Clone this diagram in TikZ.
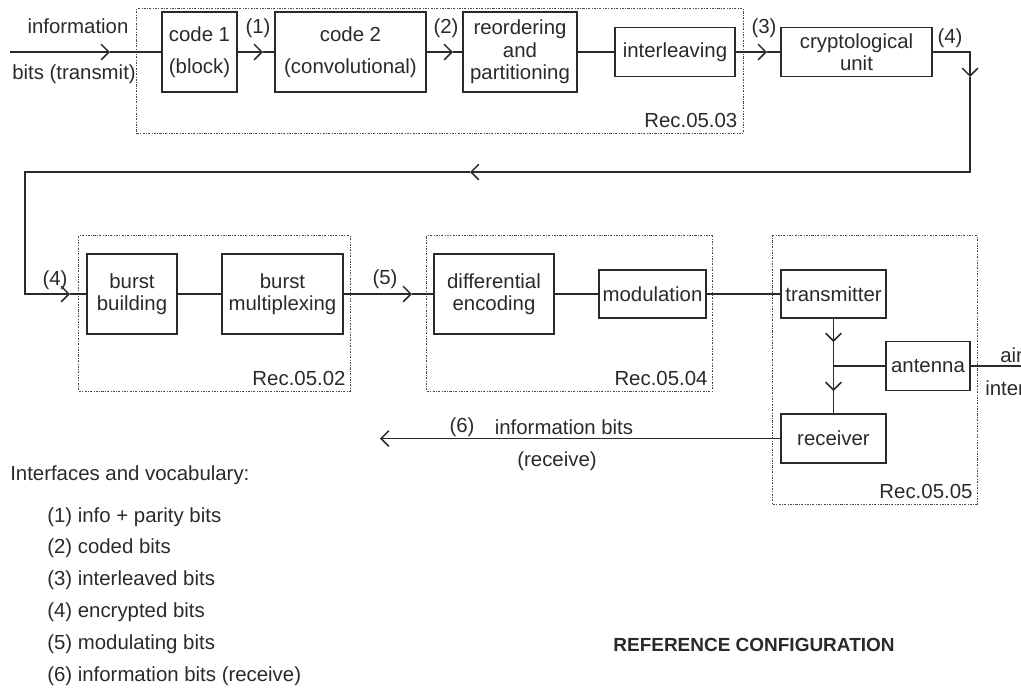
\documentclass[tikz,border=0pt]{standalone}
\usepackage{fontspec}
\setmainfont{Liberation Sans}
\usetikzlibrary{arrows.meta,positioning}
\definecolor{ink}{HTML}{2A2A2A}
\definecolor{rim}{HTML}{4A4A4A}

\begin{document}
\begin{tikzpicture}[x=0.025cm,y=-0.025cm,font=\fontsize{14.5}{16}\selectfont,
  box/.style={draw=ink,line width=1.35pt,align=center,inner sep=1pt,text=ink,fill=white},
  wire/.style={line width=1.35pt,draw=ink},
  flow/.style={wire,-{Straight Barb[length=5.5pt,width=11pt,line width=1.1pt]}},
  rec/.style={draw=rim,line width=.7pt,dash pattern=on 1.5pt off 1pt on .5pt off 1pt,inner sep=0pt},
  lbl/.style={text=ink,inner sep=0pt}]
\clip (0,0) rectangle (1021,687);

\node[rec,minimum width=15.15cm,minimum height=3.1cm] (rec03) at (440,71) {};
\node[rec,minimum width=6.775cm,minimum height=3.875cm] (rec02) at (214.5,313.5) {};
\node[rec,minimum width=7.125cm,minimum height=3.875cm] (rec04) at (569.5,313.5) {};
\node[rec,minimum width=5.1cm,minimum height=6.7cm] (rec05) at (875,370) {};
\node[lbl,anchor=base east] at ([xshift=-1.5mm,yshift=1.6mm]rec03.south east) {Rec.05.03};
\node[lbl,anchor=base east] at ([xshift=-1.2mm,yshift=1.6mm]rec02.south east) {Rec.05.02};
\node[lbl,anchor=base east] at ([xshift=-1.2mm,yshift=1.6mm]rec04.south east) {Rec.05.04};
\node[lbl,anchor=base east] at ([xshift=-1.2mm,yshift=1.6mm]rec05.south east) {Rec.05.05};

\node[box,minimum width=1.875cm,minimum height=2cm] (code1) at (199.5,52) {code 1\\[7pt](block)};
\node[box,minimum width=3.775cm,minimum height=2cm] (code2) at (350.5,52) {code 2\\[7pt](convolutional)};
\node[box,minimum width=2.85cm,minimum height=2cm] (reorder) at (520,52) {reordering\\and\\partitioning};
\node[box,minimum width=3cm,minimum height=1.225cm] (interleave) at (675,52) {interleaving};
\node[box,minimum width=3.775cm,minimum height=1.225cm] (crypto) at (856.5,52) {cryptological\\unit};

\node[box,minimum width=2.25cm,minimum height=2cm] (burstb) at (132,294) {burst\\building};
\node[box,minimum width=3.025cm,minimum height=2cm] (burstm) at (282.5,294) {burst\\multiplexing};
\node[box,minimum width=3cm,minimum height=2cm] (diffenc) at (494,294) {differential\\encoding};
\node[box,minimum width=2.675cm,minimum height=1.2cm] (modulation) at (652.5,294) {modulation};
\node[box,minimum width=2.625cm,minimum height=1.2cm] (transmitter) at (833.5,294) {transmitter};
\node[box,minimum width=2.1cm,minimum height=1.225cm] (antenna) at (928,366) {antenna};
\node[box,minimum width=2.625cm,minimum height=1.225cm] (receiver) at (833.5,438.5) {receiver};

\node[lbl] (infotop) at (78,26) {information};
\node[lbl] (infobot) at (74,74) {bits (transmit)};
\node[lbl] (if1) at (258,28) {(1)};
\node[lbl] (if2) at (446,28) {(2)};
\node[lbl] (if3) at (764,28) {(3)};
\node[lbl] (if4a) at (950,38) {(4)};
\node[lbl] (if4b) at (55,280) {(4)};
\node[lbl] (if5) at (385,279) {(5)};
\node[lbl] (if6) at (462,427) {(6)};
\node[lbl] (rxtop) at (564,427) {information bits};
\node[lbl] (rxbot) at (557,461) {(receive)};
\node[lbl,anchor=west] (airtop) at (1000,355) {air};
\node[lbl,anchor=west] (airbot) at (985,388) {interface};

\coordinate (src) at (10,52);
\coordinate (a0) at (110,52);
\coordinate (a1) at (263,52);
\coordinate (a2) at (453,52);
\coordinate (a3) at (767,52);
\draw[flow] (src) -- (a0); \draw[wire] (a0) -- (code1);
\draw[flow] (code1) -- (a1); \draw[wire] (a1) -- (code2);
\draw[flow] (code2) -- (a2); \draw[wire] (a2) -- (reorder);
\draw[wire] (reorder) -- (interleave);
\draw[flow] (interleave) -- (a3); \draw[wire] (a3) -- (crypto);

\coordinate (r1) at (970,52);
\coordinate (r2) at (970,77);
\coordinate (r3) at (970,172);
\coordinate (r4) at (470,172);
\coordinate (r5) at (25,172);
\coordinate (r6) at (25,294);
\coordinate (r7) at (70,294);
\draw[flow] (crypto) -- (r1) -- (r2);
\draw[flow] (r2) -- (r3) -- (r4);
\draw[flow] (r4) -- (r5) -- (r6) -- (r7);
\draw[wire] (r7) -- (burstb);

\coordinate (a5) at (412,294);
\draw[wire] (burstb) -- (burstm);
\draw[flow] (burstm) -- (a5); \draw[wire] (a5) -- (diffenc);
\draw[wire] (diffenc) -- (modulation);
\draw[wire] (modulation) -- (transmitter);

\coordinate (t1) at (833.5,342);
\coordinate (t2) at (833.5,391);
\coordinate (tj) at (833.5,366);
\coordinate (airend) at (1030,366);
\coordinate (out6) at (380,438.5);
\draw[flow] (transmitter) -- (t1); \draw[flow] (t1) -- (t2); \draw[wire] (t2) -- (receiver);
\draw[wire] (tj) -- (antenna);
\draw[wire] (antenna) -- (airend);
\draw[flow] (receiver) -- (out6);

\node[lbl,anchor=west] (vocab) at (10,475) {Interfaces and vocabulary:};
\node[lbl,anchor=west] (item1) at (47,517) {(1) info + parity bits};
\node[lbl,anchor=west] (item2) at (47,548) {(2) coded bits};
\node[lbl,anchor=west] (item3) at (47,580) {(3) interleaved bits};
\node[lbl,anchor=west] (item4) at (47,612) {(4) encrypted bits};
\node[lbl,anchor=west] (item5) at (47,644) {(5) modulating bits};
\node[lbl,anchor=west] (item6) at (47,676) {(6) information bits (receive)};
\node[lbl,font=\bfseries\fontsize{13.5}{15}\selectfont] (title) at (754,645) {REFERENCE CONFIGURATION};
\end{tikzpicture}
\end{document}
